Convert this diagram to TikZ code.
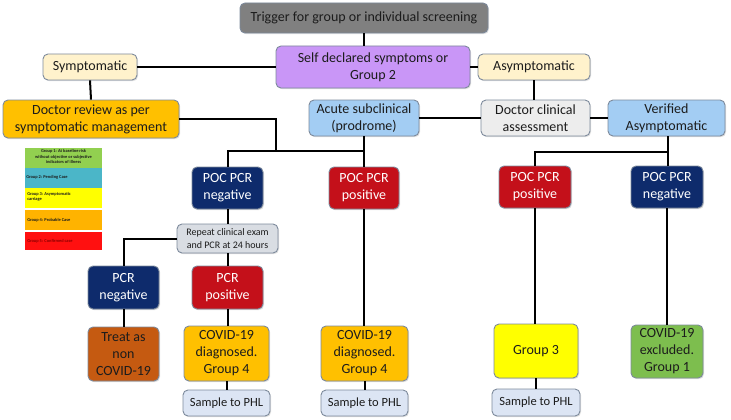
\documentclass[tikz,border=0pt]{standalone}
\usepackage{fontspec}
\setmainfont{Carlito}
\usetikzlibrary{shadows}
\definecolor{trigc}{HTML}{808080}
\definecolor{purp}{HTML}{C996F7}
\definecolor{cream}{HTML}{FFF2CC}
\definecolor{orng}{HTML}{FFC000}
\definecolor{lblue}{HTML}{A3CDF3}
\definecolor{lgray}{HTML}{EDEDED}
\definecolor{navy}{HTML}{0E2B6C}
\definecolor{redb}{HTML}{C4101A}
\definecolor{repc}{HTML}{D9DDE3}
\definecolor{smpl}{HTML}{DCE5F4}
\definecolor{brwn}{HTML}{C55A11}
\definecolor{yel}{HTML}{FFFF00}
\definecolor{grn}{HTML}{7DBE4E}
\definecolor{bord}{HTML}{7D8A9C}
\definecolor{lg1}{HTML}{92D050}
\definecolor{lg2}{HTML}{4BB6C8}
\definecolor{lg4}{HTML}{FFB300}
\definecolor{lg5}{HTML}{FF1010}
\definecolor{txt}{HTML}{1C1C1C}
\tikzset{
  box/.style={draw=bord, line width=0.9pt, rounded corners=5pt, align=center,
    inner sep=1pt, text=txt, font=\fontsize{14}{17}\selectfont,
    drop shadow={opacity=0.25, shadow xshift=1pt, shadow yshift=-1.2pt}},
  wbox/.style={box, text=white},
  conn/.style={line width=2pt, black},
  leg/.style={anchor=north west, inner sep=0.6pt, draw=none, text=txt, align=left,
    font=\fontsize{4.4}{5.2}\selectfont\bfseries},
}
\begin{document}
\begin{tikzpicture}[x=1pt,y=-1pt]
\useasboundingbox (0,0) rectangle (731,420);
% nodes
\node[box, fill=trigc, minimum width=248, minimum height=30] (trig) at (364,18) {Trigger for group or individual screening};
\node[box, fill=purp, minimum width=194, minimum height=42] (self) at (373,67) {Self declared symptoms or\\Group 2};
\node[box, fill=cream, minimum width=94, minimum height=26] (symp) at (90,67) {Symptomatic};
\node[box, fill=cream, minimum width=112, minimum height=26] (asymp) at (534,67) {Asymptomatic};
\node[box, fill=orng, minimum width=176, minimum height=38] (drev) at (91,119) {Doctor review as per\\symptomatic management};
\node[box, fill=lblue, minimum width=110, minimum height=36] (acute) at (364,118) {Acute subclinical\\(prodrome)};
\node[box, fill=lgray, minimum width=109, minimum height=36] (dca) at (535.5,118) {Doctor clinical\\assessment};
\node[box, fill=lblue, minimum width=117, minimum height=36] (ver) at (666.5,118) {Verified\\Asymptomatic};
\node[wbox, fill=navy, minimum width=71, minimum height=42] (pocn1) at (227.5,188) {POC PCR\\negative};
\node[wbox, fill=redb, minimum width=70, minimum height=42] (pocp1) at (364,188) {POC PCR\\positive};
\node[wbox, fill=redb, minimum width=72, minimum height=42] (pocp2) at (535,187) {POC PCR\\positive};
\node[wbox, fill=navy, minimum width=72, minimum height=42] (pocn2) at (667,187) {POC PCR\\negative};
\node[box, fill=repc, minimum width=101, minimum height=29, font=\fontsize{10}{13}\selectfont] (rep) at (227.5,238.5) {Repeat clinical exam\\and PCR at 24 hours};
\node[wbox, fill=navy, minimum width=71, minimum height=43] (pcrn) at (123.5,287.5) {PCR\\negative};
\node[wbox, fill=redb, minimum width=71, minimum height=43] (pcrp) at (227.5,287.5) {PCR\\positive};
\node[box, fill=brwn, minimum width=71, minimum height=54] (treat) at (123.5,354) {Treat as\\non\\COVID-19};
\node[box, fill=orng, minimum width=85, minimum height=55] (cov1) at (226.5,353.5) {COVID-19\\diagnosed.\\Group 4};
\node[box, fill=orng, minimum width=87, minimum height=55] (cov2) at (364.5,353.5) {COVID-19\\diagnosed.\\Group 4};
\node[box, fill=yel, minimum width=84, minimum height=54] (g3) at (536,351) {Group 3};
\node[box, fill=grn, minimum width=72, minimum height=53] (excl) at (667,351.5) {COVID-19\\excluded.\\Group 1};
\node[box, fill=smpl, minimum width=87, minimum height=26, font=\fontsize{12.5}{15}\selectfont] (s1) at (226.5,403) {Sample to PHL};
\node[box, fill=smpl, minimum width=87, minimum height=26, font=\fontsize{12.5}{15}\selectfont] (s2) at (364.5,403) {Sample to PHL};
\node[box, fill=smpl, minimum width=88, minimum height=27, font=\fontsize{12.5}{15}\selectfont] (s3) at (536,402.5) {Sample to PHL};
% junctions
\coordinate (j1) at (276,151);
\coordinate (j2) at (668,152);
% connectors
\draw[conn] (trig.south) -- (trig.south |- self.north);
\draw[conn] (self.west) -- (symp.east);
\draw[conn] (self.east) -- (asymp.west);
\draw[conn] (symp.south) -- (drev.north);
\draw[conn] (asymp.south) -- (asymp.south |- dca.north);
\draw[conn] (acute.east) -- (dca.west);
\draw[conn] (dca.east) -- (ver.west);
\draw[conn] (drev.east) -| (j1);
\draw[conn] (pocn1.north) |- (j1) -- (j1 -| acute.south);
\draw[conn] (acute.south) -- (pocp1.north);
\draw[conn] (ver.south -| j2) -- (pocn2.north -| j2);
\draw[conn] (pocp2.north) |- (j2);
\draw[conn] (pocn1.south) -- (pocn1.south |- rep.north);
\draw[conn] (rep.south -| pcrp.north) -- (pcrp.north);
\draw[conn] (rep.west) -| (pcrn.north);
\draw[conn] (pcrn.south) -- (treat.north);
\draw[conn] (pcrp.south) -- (pcrp.south |- cov1.north);
\draw[conn] (cov1.south) -- (s1.north);
\draw[conn] (pocp1.south) -- (pocp1.south |- cov2.north);
\draw[conn] (cov2.south) -- (cov2.south |- s2.north);
\draw[conn] (pocp2.south) -- (pocp2.south |- g3.north);
\draw[conn] (g3.south) -- (s3.north);
\draw[conn] (pocn2.south) -- (excl.north);
% legend
\fill[lg1] (25,148) rectangle (102,168);
\fill[lg2] (25,168) rectangle (102,188);
\fill[yel] (25,188) rectangle (102,208);
\fill[lg4] (25,210) rectangle (102,230);
\fill[lg5] (25,232) rectangle (102,250);
\node[leg, anchor=north, align=center] (l1) at (63.5,149) {Group 1: At baseline risk\\without objective or subjective\\indicators of illness};
\node[leg, anchor=west] (l2) at (25.5,177.5) {Group 2: Pending Case};
\node[leg, anchor=west] (l3) at (26.5,197) {Group 3: Asymptomatic\\carriage};
\node[leg, anchor=west] (l4) at (26.5,220) {Group 4: Probable Case};
\node[leg, anchor=west, text=red!55!black] (l5) at (26.5,241) {Group 5: Confirmed case};
\end{tikzpicture}
\end{document}
